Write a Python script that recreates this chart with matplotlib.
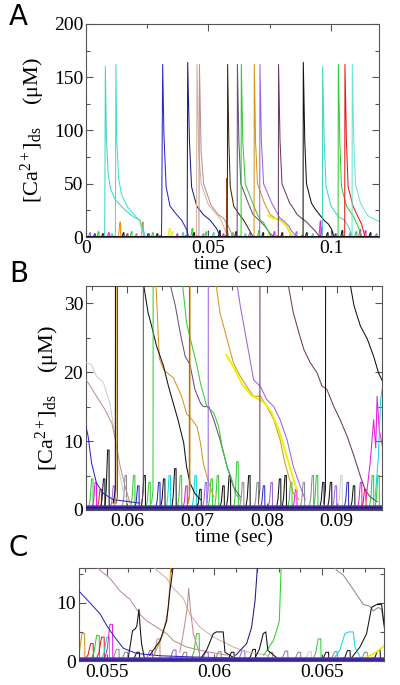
import matplotlib
matplotlib.use("Agg")
import matplotlib.pyplot as plt
from matplotlib.ticker import MultipleLocator, FuncFormatter

# ─── Colours ──────────────────────────────────────────────────────────────────
TURQ, TURQ2, TURQ3 = "#3ed6c2", "#40e0d0", "#6ae6cc"
BLUE, NAVY = "#2a2ac8", "#1c1c84"
TAN, ROSY, LGRAY, GRAY = "#d2b4a0", "#bc8f8f", "#cfcfcf", "#8c8c8c"
DKBROWN, SADDLE = "#3a2a10", "#8b4513"
PGRAY, MPURPLE, MAROON = "#6b4e80", "#9966dd", "#6e3b5e"
GREEN, GOLD, YELLOW, ORANGE = "#33cc33", "#d4961e", "#eeee00", "#ff8c00"
RED, MAGENTA, CYAN, BLACK = "#e41a1c", "#e020e0", "#10d8e0", "#111111"

# ─── Panel A : full record (t in s, [Ca2+]ds in uM) ──────────────────────────
A_colors = [TURQ, TURQ2, BLUE, NAVY, TAN, ROSY, DKBROWN, SADDLE, PGRAY, GREEN,
            GOLD, YELLOW, MPURPLE, MAROON, BLACK, TURQ, GREEN, RED, TURQ3]
A_t = [
    [0.0070, 0.0076, 0.0077, 0.0079, 0.0083, 0.0090, 0.0100, 0.0120, 0.0152, 0.0193, 0.0220, 0.0234, 0.0242],
    [0.0110, 0.0120, 0.0122, 0.0126, 0.0133, 0.0145, 0.0170, 0.0200, 0.0220, 0.0230, 0.0240],
    [0.0300, 0.0308, 0.0309, 0.0313, 0.0318, 0.0327, 0.0343, 0.0370, 0.0390, 0.0411, 0.0418],
    [0.0405, 0.0413, 0.0415, 0.0422, 0.0431, 0.0452, 0.0479, 0.0506, 0.0533, 0.0547],
    [0.0445, 0.0451, 0.0453, 0.0460, 0.0470, 0.0500, 0.0530, 0.0550, 0.0565, 0.0578],
    [0.0455, 0.0461, 0.0463, 0.0470, 0.0480, 0.0510, 0.0540, 0.0560, 0.0582, 0.0598],
    [0.0570, 0.0577, 0.0578, 0.0583, 0.0589, 0.0603, 0.0623, 0.0643, 0.0663, 0.0680],
    [0.0570, 0.0573, 0.0574, 0.0576, 0.0580],
    [0.0610, 0.0617, 0.0618, 0.0624, 0.0632, 0.0662, 0.0682, 0.0710, 0.0731, 0.0752, 0.0765],
    [0.0625, 0.0633, 0.0634, 0.0640, 0.0650, 0.0680, 0.0700, 0.0714, 0.0724, 0.0733, 0.0743, 0.0755],
    [0.0680, 0.0686, 0.0687, 0.0692, 0.0700, 0.0728, 0.0752, 0.0774, 0.0790, 0.0800, 0.0819, 0.0838, 0.0845],
    [0.0745, 0.0760, 0.0776, 0.0792, 0.0803, 0.0822, 0.0840],
    [0.0703, 0.0709, 0.0710, 0.0716, 0.0725, 0.0758, 0.0791, 0.0810, 0.0829, 0.0838, 0.0853, 0.0860],
    [0.0779, 0.0785, 0.0786, 0.0792, 0.0800, 0.0831, 0.0846, 0.0862, 0.0879, 0.0896, 0.0915, 0.0934, 0.0948, 0.0955],
    [0.0880, 0.0886, 0.0887, 0.0893, 0.0900, 0.0920, 0.0934, 0.0960, 0.0975, 0.0990, 0.1003, 0.1010],
    [0.0960, 0.0965, 0.0966, 0.0972, 0.0980, 0.1000, 0.1030, 0.1055, 0.1075, 0.1085],
    [0.1023, 0.1029, 0.1030, 0.1036, 0.1043, 0.1063, 0.1090, 0.1110, 0.1125],
    [0.1050, 0.1056, 0.1057, 0.1063, 0.1070, 0.1090, 0.1110, 0.1125, 0.1138],
    [0.1080, 0.1086, 0.1087, 0.1093, 0.1100, 0.1120, 0.1150, 0.1200],
]
A_y = [
    [1, 1, 25, 160, 95, 60, 45, 35, 27, 19, 16, 7, 0.5],
    [1, 1, 162, 90, 55, 40, 28, 20, 15, 6, 0.5],
    [1, 1, 20, 162, 97, 47, 29, 21, 16, 7, 0.5],
    [1, 1, 164, 91, 47, 29, 21, 16, 8, 1],
    [1, 1, 162, 80, 50, 30, 22, 17, 8, 1],
    [1, 1, 162, 80, 50, 30, 21, 18, 10, 1],
    [1, 1, 162, 90, 47, 29, 22, 16, 8, 1],
    [1, 1, 55, 10, 1],
    [1, 1, 162, 90, 50, 32, 21, 15, 10, 3, 1],
    [1, 1, 162, 90, 50, 32, 21, 15, 14, 10, 6, 1],
    [1, 1, 162, 90, 50, 32, 21, 17.5, 16.5, 14.6, 10, 2, 1],
    [20, 18, 17, 16, 14, 9, 1],
    [1, 1, 162, 90, 50, 32, 17.9, 14.6, 10, 6, 2, 1],
    [1, 1, 162, 90, 50, 32, 27, 21, 17.9, 15, 10.5, 6, 2, 1],
    [1, 1, 164, 90, 50, 32, 26.7, 19, 15, 12, 7, 1],
    [1, 1, 160, 90, 47, 29, 19, 16, 8, 1],
    [1, 1, 162, 90, 47, 29, 20, 10, 1],
    [1, 1, 162, 90, 47, 29, 19, 12, 1],
    [1, 1, 162, 90, 50, 32, 20, 14],
]
A_blip_t = [0.0015, 0.0035, 0.0050, 0.0068, 0.0092, 0.0105, 0.0138, 0.0152, 0.0168, 0.0185,
            0.0205, 0.0231, 0.0255, 0.0272, 0.0290, 0.0340, 0.0352, 0.0372, 0.0395, 0.0433,
            0.0440, 0.0478, 0.0490, 0.0520, 0.0545, 0.0560, 0.0598, 0.0612, 0.0650, 0.0668,
            0.0705, 0.0722, 0.0745, 0.0768, 0.0800, 0.0835, 0.0858, 0.0900, 0.0925, 0.0956,
            0.0962, 0.0985, 0.1005, 0.1018, 0.1045, 0.1078, 0.1102, 0.1118, 0.1140, 0.1160, 0.1185]
A_blip_h = [4, 3, 5, 3, 4, 3, 14, 4, 3, 5,
            3, 14, 3, 4, 3, 8, 5, 3, 4, 8,
            4, 3, 5, 4, 6, 3, 4, 5, 3, 4,
            6, 4, 3, 5, 4, 3, 5, 4, 3, 15,
            9, 4, 5, 3, 6, 4, 5, 7, 6, 4, 3]
A_blip_c = [MPURPLE, BLUE, GREEN, BLACK, MAGENTA, CYAN, ORANGE, BLACK, RED, GREEN,
            MPURPLE, ORANGE, BLUE, GREEN, BLACK, YELLOW, YELLOW, MAGENTA, CYAN, GREEN,
            BLACK, MPURPLE, GREEN, CYAN, BLACK, MAGENTA, GREEN, BLACK, CYAN, MPURPLE,
            GREEN, BLACK, YELLOW, MAGENTA, BLACK, GREEN, MPURPLE, BLACK, CYAN, MAGENTA,
            MAGENTA, BLACK, GREEN, BLUE, BLACK, MPURPLE, GREEN, MAGENTA, MAGENTA, BLACK, MPURPLE]

# ─── Panel B : zoom 0.054-0.0965 s ────────────────────────────────────────────
B_colors = [LGRAY, ROSY, BLUE, GOLD, BLACK, SADDLE, PGRAY, GREEN, SADDLE, GOLD,
            YELLOW, MPURPLE, MAROON, BLACK, MAGENTA, CYAN]
B_t = [
    [0.0541, 0.0549, 0.0556, 0.0566, 0.0575, 0.0583, 0.0587, 0.0595, 0.0602],
    [0.0541, 0.0547, 0.0556, 0.0568, 0.0578, 0.0583, 0.0590, 0.0597, 0.0604],
    [0.0541, 0.0544, 0.0549, 0.0556, 0.0566, 0.0580, 0.0618],
    [0.0582, 0.0584, 0.0585, 0.0646, 0.0652, 0.0656, 0.0666, 0.0678, 0.0685, 0.0693, 0.0700, 0.0705, 0.0709, 0.0717, 0.0724],
    [0.0580, 0.0583, 0.0584, 0.0623, 0.0630, 0.0635, 0.0642, 0.0652, 0.0659, 0.0666, 0.0673, 0.0681, 0.0685, 0.0690, 0.0697, 0.0705],
    [0.0584, 0.0586, 0.0587, 0.0590],
    [0.0621, 0.0623, 0.0624, 0.0661, 0.0669, 0.0676, 0.0683, 0.0690, 0.0697, 0.0705, 0.0709, 0.0717, 0.0724, 0.0733, 0.0743, 0.0752, 0.0762],
    [0.0635, 0.0637, 0.0638, 0.0679, 0.0685, 0.0693, 0.0700, 0.0705, 0.0714, 0.0724, 0.0731, 0.0736, 0.0743, 0.0750, 0.0755, 0.0762],
    [0.0687, 0.0689, 0.0690, 0.0693],
    [0.0688, 0.0690, 0.0691, 0.0727, 0.0733, 0.0743, 0.0752, 0.0762, 0.0774, 0.0781, 0.0791, 0.0800, 0.0810, 0.0819, 0.0826, 0.0834, 0.0838, 0.0846],
    [0.0742, 0.0752, 0.0765, 0.0778, 0.0786, 0.0796, 0.0806, 0.0818, 0.0828, 0.0836, 0.0843],
    [0.0714, 0.0716, 0.0717, 0.0757, 0.0762, 0.0769, 0.0776, 0.0781, 0.0791, 0.0800, 0.0810, 0.0819, 0.0829, 0.0838, 0.0848, 0.0855],
    [0.0788, 0.0790, 0.0791, 0.0830, 0.0838, 0.0846, 0.0853, 0.0862, 0.0872, 0.0879, 0.0886, 0.0896, 0.0905, 0.0915, 0.0925, 0.0934, 0.0941, 0.0948, 0.0958],
    [0.0882, 0.0884, 0.0885, 0.0919, 0.0925, 0.0934, 0.0944, 0.0953, 0.0960, 0.0966],
    [0.0942, 0.0948, 0.0953, 0.0956, 0.0958, 0.0961, 0.0966],
    [0.0955, 0.0960, 0.0963, 0.0966],
]
B_y = [
    [21.4, 21.1, 19.4, 18.5, 15.5, 10.7, 6.3, 2.4, 1.2],
    [18.9, 18.0, 16.5, 14.6, 12.6, 10.2, 6.3, 3.4, 1.0],
    [12.1, 10.7, 6.8, 3.9, 2.4, 1.5, 1.0],
    [1, 3, 160, 22, 20.4, 20.0, 19.2, 16.5, 14.0, 13.1, 12.1, 9.7, 6.8, 3.9, 1.9],
    [1, 3, 160, 33, 28.6, 26.7, 23.8, 20.9, 18.0, 15.5, 13.0, 9.7, 6.3, 3.9, 2.4, 1.5],
    [1, 2, 160, 40],
    [1, 3, 160, 33, 29.6, 25.7, 22.3, 21.1, 17.5, 15.5, 15.0, 15.0, 13.1, 10.2, 6.3, 3.4, 1.9],
    [1, 3, 160, 33, 27.2, 23.8, 20.9, 18.4, 15.0, 14.1, 12.1, 9.2, 6.3, 4.4, 2.4, 1.5],
    [1, 2, 160, 40],
    [1, 3, 160, 33, 28.6, 24.8, 21.4, 19.4, 17.5, 16.5, 16.5, 15.0, 13.1, 10.2, 6.8, 3.9, 2.4, 1.5],
    [22.5, 20.8, 18.2, 16.6, 16.2, 15.6, 14.3, 11.4, 8.0, 5.2, 3.0],
    [1, 3, 160, 33, 29.6, 25.7, 21.8, 18.9, 17.9, 16.0, 15.0, 13.1, 10.2, 6.3, 3.4, 1.5],
    [1, 3, 160, 33, 28.6, 25.7, 23.3, 21.4, 19.9, 18.0, 17.5, 15.0, 13.1, 10.7, 7.8, 4.9, 2.9, 1.9, 1.2],
    [1, 3, 160, 33, 29.6, 26.7, 24.8, 22.3, 19.9, 18.6],
    [1.5, 6.8, 13.1, 9.0, 16.5, 11.7, 9.0],
    [1.5, 8.0, 16.0, 18.0],
]
B_blip_t = [0.0549, 0.0554, 0.0561, 0.0566, 0.0572, 0.0580, 0.0597, 0.0609, 0.0615, 0.0624,
            0.0631, 0.0645, 0.0652, 0.0660, 0.0668, 0.0676, 0.0684, 0.0697, 0.0704, 0.0712,
            0.0720, 0.0729, 0.0737, 0.0746, 0.0757, 0.0765, 0.0774, 0.0786, 0.0795, 0.0806,
            0.0818, 0.0826, 0.0834, 0.0841, 0.0852, 0.0865, 0.0871, 0.0880, 0.0891, 0.0898,
            0.0906, 0.0915, 0.0924, 0.0934, 0.0940, 0.0951, 0.0959]
B_blip_h = [4.5, 4.0, 3.0, 4.5, 8.7, 3.5, 5.0, 5.0, 3.5, 5.0,
            4.0, 4.0, 4.5, 5.0, 6.0, 5.0, 3.5, 5.0, 3.0, 4.0,
            4.5, 5.0, 3.5, 5.0, 7.0, 4.0, 5.0, 4.0, 3.5, 4.0,
            4.5, 5.0, 4.0, 3.0, 4.0, 5.0, 5.0, 4.0, 4.0, 3.5,
            5.0, 4.0, 3.5, 4.0, 3.0, 5.0, 5.0]
B_blip_c = [GREEN, MAGENTA, RED, BLACK, BLACK, MPURPLE, GRAY, GREEN, BLUE, BLACK,
            GREEN, BLUE, BLACK, CYAN, BLACK, GREEN, MAGENTA, CYAN, BLACK, MPURPLE,
            GREEN, GREEN, BLACK, BLACK, GREEN, GRAY, BLACK, GRAY, BLUE, MPURPLE,
            BLACK, BLACK, GREEN, MAGENTA, GRAY, GRAY, GREEN, BLACK, BLACK, MPURPLE,
            LGRAY, BLUE, BLACK, MAGENTA, RED, GREEN, GREEN]

# ─── Panel C : zoom 0.0537-0.0679 s ───────────────────────────────────────────
C_colors = [BLUE, ROSY, TAN, ROSY, BLACK, GOLD, BLACK, NAVY, GREEN, BLACK, BLACK, GRAY, BLACK, CYAN, YELLOW]
C_t = [
    [0.05371, 0.05422, 0.05469, 0.05500, 0.05531, 0.05577, 0.05639, 0.05750, 0.05900, 0.06100, 0.06400, 0.06790],
    [0.05430, 0.05469, 0.05515, 0.05562, 0.05608, 0.05655, 0.05686, 0.05733, 0.05779, 0.05810, 0.05872, 0.05965, 0.06060],
    [0.05700, 0.05733, 0.05779, 0.05810, 0.05856, 0.05887, 0.05934, 0.05996, 0.06058, 0.06089, 0.06150, 0.06250],
    [0.05840, 0.05856, 0.05875, 0.05881, 0.05890, 0.05903, 0.05930],
    [0.05600, 0.05620, 0.05632, 0.05640, 0.05650, 0.05656, 0.05662, 0.05675],
    [0.05720, 0.05763, 0.05787, 0.05797, 0.05805],
    [0.05700, 0.05748, 0.05779, 0.05794, 0.05807, 0.05815],
    [0.06100, 0.06151, 0.06174, 0.06190, 0.06200, 0.06208],
    [0.06230, 0.06275, 0.06290, 0.06303, 0.06311, 0.06320],
    [0.05940, 0.05965, 0.05996, 0.06010, 0.06042, 0.06050, 0.06090],
    [0.06190, 0.06210, 0.06228, 0.06240, 0.06250, 0.06290],
    [0.06550, 0.06569, 0.06600, 0.06632, 0.06663, 0.06694, 0.06725, 0.06740, 0.06763, 0.06779, 0.06790],
    [0.06640, 0.06678, 0.06709, 0.06732, 0.06756, 0.06779, 0.06790],
    [0.06560, 0.06585, 0.06608, 0.06625, 0.06647, 0.06655, 0.06680],
    [0.06700, 0.06740, 0.06770, 0.06790],
]
C_y = [
    [12.0, 10.0, 8.1, 6.1, 4.4, 2.2, 1.3, 0.9, 0.7, 0.5, 0.4, 0.4],
    [17.0, 15.6, 14.2, 12.0, 10.6, 8.0, 6.9, 5.8, 4.7, 3.5, 2.4, 1.6, 1.0],
    [17.0, 15.6, 14.2, 12.5, 10.8, 8.0, 5.8, 4.1, 3.0, 2.4, 1.6, 1.0],
    [1.5, 4.7, 9.2, 12.5, 8.6, 4.7, 1.5],
    [0.5, 5.2, 5.5, 6.0, 8.9, 5.5, 3.0, 0.5],
    [1.0, 4.7, 9.2, 15.3, 40.0],
    [1.0, 3.5, 6.9, 12.0, 15.6, 40.0],
    [1.0, 3.0, 5.8, 10.3, 15.6, 40.0],
    [1.0, 3.5, 5.2, 6.9, 15.6, 40.0],
    [0.6, 1.9, 4.7, 5.0, 5.0, 1.5, 0.6],
    [0.6, 2.0, 4.7, 5.0, 1.8, 0.6],
    [17.0, 15.6, 14.8, 13.1, 11.4, 9.7, 9.4, 8.6, 9.2, 8.9, 5.8],
    [0.6, 2.4, 4.7, 9.2, 9.7, 9.7, 6.3],
    [0.6, 1.9, 4.7, 5.0, 5.0, 2.4, 0.6],
    [0.5, 1.2, 2.0, 2.6],
]
C_blip_t = [0.05385, 0.05425, 0.05453, 0.05476, 0.05500, 0.05515, 0.05545, 0.05585, 0.05640, 0.05700,
            0.05735, 0.05810, 0.05860, 0.05918, 0.05960, 0.06020, 0.06080, 0.06130, 0.06180, 0.06260,
            0.06330, 0.06390, 0.06440, 0.06484, 0.06520, 0.06560, 0.06620, 0.06700, 0.06760]
C_blip_h = [4.7, 3.0, 4.4, 4.1, 4.1, 6.3, 2.0, 1.5, 1.5, 1.8,
            3.8, 1.9, 1.5, 4.7, 1.5, 1.6, 1.5, 1.8, 2.0, 1.5,
            1.7, 1.5, 1.6, 3.8, 1.5, 1.6, 1.8, 1.5, 1.8]
C_blip_c = [GOLD, RED, GREEN, RED, CYAN, MAGENTA, GRAY, GRAY, BLACK, MPURPLE,
            ROSY, MPURPLE, GRAY, GREEN, MPURPLE, GRAY, BLACK, MPURPLE, BLACK, GRAY,
            MPURPLE, GRAY, LGRAY, GREEN, BLACK, GRAY, BLACK, GRAY, BLACK]

BASE_COLORS = [RED, BLUE, BLACK, MPURPLE, NAVY]
BASE_LEVELS = [0.9, 0.7, 0.5, 0.35, 0.2]

plt.rcParams["font.family"] = ["Liberation Serif", "DejaVu Serif"]
plt.rcParams["mathtext.fontset"] = "custom"
plt.rcParams["mathtext.rm"] = "Liberation Serif"
plt.rcParams["mathtext.it"] = "Liberation Serif:italic"
YLABEL = r"[Ca$^{2+}$]$_{\mathrm{ds}}$    (μM)"


def draw_traces(ax, ts, ys, colors, lw=0.75):
    for t, y, c in zip(ts, ys, colors):
        ax.plot(t, y, color=c, lw=lw * (1.8 if c == YELLOW else 1.0), zorder=3)


def draw_blips(ax, ts, hs, colors, w, lw=0.75):
    # rounded rise, short plateau, sharp fall
    for t, h, c in zip(ts, hs, colors):
        ax.plot([t - 2 * w, t - w, t - 0.4 * w, t, t + w, t + 1.1 * w, t + 2 * w],
                [0.4, 0.35 * h, 0.75 * h, h, h, 0.5, 0.4], color=c, lw=lw, zorder=2)


def draw_base(ax, xlim, scale, lw):
    for lvl, c in zip(BASE_LEVELS, BASE_COLORS):
        ax.plot(xlim, [lvl * scale, lvl * scale], color=c, lw=lw, zorder=4)


def style(ax, xlim, ylim, xmaj, xmin, ymaj, ymin):
    ax.set_xlim(*xlim); ax.set_ylim(*ylim)
    ax.xaxis.set_major_locator(MultipleLocator(xmaj))
    ax.xaxis.set_minor_locator(MultipleLocator(xmin))
    ax.yaxis.set_major_locator(MultipleLocator(ymaj))
    ax.yaxis.set_minor_locator(MultipleLocator(ymin))
    fmt = FuncFormatter(lambda v, p: f"{round(v, 6):g}")
    ax.xaxis.set_major_formatter(fmt); ax.yaxis.set_major_formatter(fmt)
    ax.tick_params(which="both", direction="in", top=True, right=True,
                   color="#555555", width=0.8, pad=2)
    ax.tick_params(which="major", length=5, labelsize=14)
    ax.tick_params(which="minor", length=3)
    for s in ax.spines.values():
        s.set_color("#555555"); s.set_linewidth(0.8)


fig = plt.figure(figsize=(4.0, 6.85), dpi=100)

# Panel A
axA = fig.add_axes([0.215, 0.654, 0.7325, 0.311])
xlA, ylA = (0, 0.1196), (0, 200)
draw_blips(axA, A_blip_t, A_blip_h, A_blip_c, 0.0003)
draw_traces(axA, A_t, A_y, A_colors)
draw_base(axA, xlA, 1.3, 0.7)
style(axA, xlA, ylA, 0.05, 0.025, 50, 25)
axA.set_xlabel("time (sec)", fontsize=14, labelpad=-1)
axA.set_ylabel(YLABEL, fontsize=16, labelpad=5)

# Panel B
axB = fig.add_axes([0.215, 0.2555, 0.74, 0.327])
xlB, ylB = (0.0541, 0.0965), (0, 32.5)
draw_blips(axB, B_blip_t, B_blip_h, B_blip_c, 0.0002)
draw_traces(axB, B_t, B_y, B_colors)
draw_base(axB, xlB, 0.6, 1.1)
style(axB, xlB, ylB, 0.01, 0.005, 10, 5)
axB.set_xlabel("time (sec)", fontsize=14, labelpad=-1)
axB.set_ylabel(YLABEL, fontsize=16, labelpad=1)

# Panel C
axC = fig.add_axes([0.1975, 0.035, 0.7625, 0.136])
xlC, ylC = (0.05371, 0.0679), (0, 16)
draw_blips(axC, C_blip_t, C_blip_h, C_blip_c, 0.00012)
draw_traces(axC, C_t, C_y, C_colors)
draw_base(axC, xlC, 0.5, 1.1)
style(axC, xlC, ylC, 0.005, 0.001, 10, 5)

for lab, y in [("A", 0.995), ("B", 0.62), ("C", 0.22)]:
    fig.text(0.022, y, lab, fontsize=20, fontfamily="DejaVu Sans", va="top", ha="left")

fig.savefig("out.png", dpi=100)
